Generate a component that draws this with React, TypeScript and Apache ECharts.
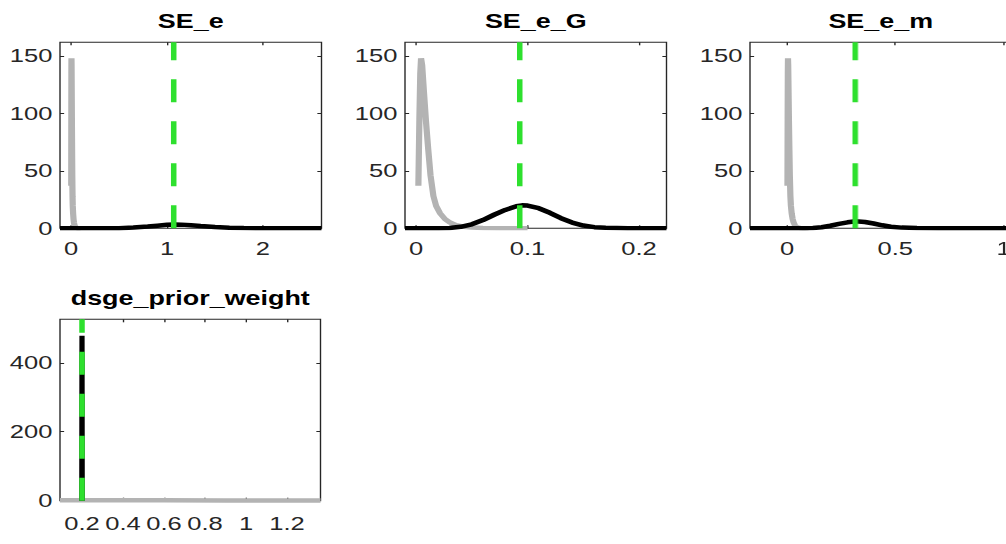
import React, { useEffect, useRef } from "react";
import * as echarts from "echarts";

// ---- data -------------------------------------------------------------
// shared prior density of the three shock standard deviations
const priorSEX = [0.0021, 0.003, 0.0038, 0.0045, 0.0055, 0.007, 0.009, 0.011, 0.013, 0.0156, 0.018, 0.0216, 0.026, 0.0305, 0.036, 0.0425, 0.05, 0.06, 0.075, 0.1];
const priorSEY = [37, 95, 135, 148, 142, 120, 92, 68, 46, 28, 19.5, 13, 8, 5, 2.8, 1.4, 0.7, 0.3, 0.1, 0.03];

// posterior densities
const postSEeX = [-0.115, 0.3, 0.5, 0.65, 0.8, 0.9, 1.0, 1.08, 1.15, 1.25, 1.35, 1.5, 1.65, 1.8, 2.0, 2.3, 2.61];
const postSEeY = [0, 0.02, 0.15, 0.6, 1.5, 2.3, 3.0, 3.3, 3.2, 2.7, 2.0, 1.1, 0.5, 0.2, 0.06, 0.01, 0];

const postSEeGX = [-0.0099, 0.02, 0.03, 0.04, 0.05, 0.06, 0.07, 0.08, 0.09, 0.095, 0.1, 0.11, 0.12, 0.13, 0.14, 0.15, 0.16, 0.17, 0.19, 0.2246];
const postSEeGY = [0, 0, 0.3, 1.3, 3.5, 7.2, 11.8, 16, 19.2, 20, 19.8, 17.5, 13.5, 8.8, 5, 2.4, 1, 0.4, 0.05, 0];

const postSEemX = [-0.171, 0.08, 0.12, 0.16, 0.2, 0.24, 0.28, 0.31, 0.33, 0.36, 0.4, 0.44, 0.48, 0.53, 0.6, 0.7, 1.037];
const postSEemY = [0, 0.02, 0.2, 0.9, 2.2, 3.8, 5.2, 5.9, 6, 5.5, 4.2, 2.6, 1.4, 0.6, 0.2, 0.04, 0];

const priorDpwX = [0.0927, 0.3, 0.6, 0.9, 1.2, 1.363];
const priorDpwY = [1.2, 1.1, 1.0, 0.9, 0.8, 0.75];
const postDpwX = [0.199, 0.2, 0.201];
const postDpwY = [0, 478, 0];

// posterior modes (dashed green lines)
const modes = [1.07, 0.093, 0.315, 0.2];

const titles = ["SE_e", "SE_e_G", "SE_e_m", "dsge_prior_weight"];

// axis ranges and ticks
const xRanges = [[-0.115, 2.61], [-0.0099, 0.2246], [-0.171, 1.037], [0.0927, 1.363]];
const xTicks = [[0, 1, 2], [0, 0.1, 0.2], [0, 0.5, 1], [0.2, 0.4, 0.6, 0.8, 1, 1.2]];
const yRanges = [[0, 162], [0, 162], [0, 162], [0, 526]];
const yTicks = [[0, 50, 100, 150], [0, 50, 100, 150], [0, 50, 100, 150], [0, 200, 400]];

// ---- layout -----------------------------------------------------------
const S = 1.38; // horizontal stretch of the figure
const W = 1006 / S;
const H = 544;

const boxes = [
  { left: 60, top: 42.3, width: 261.5, height: 186, title: 21.5, margin: 11, post: 4.5 },
  { left: 405, top: 42.3, width: 261.5, height: 186, title: 21.5, margin: 11, post: 4.5 },
  { left: 750, top: 42.3, width: 261.5, height: 186, title: 21.5, margin: 11, post: 4.5 },
  { left: 60, top: 319.3, width: 260.5, height: 181.4, title: 298.5, margin: 14, post: 3.8 },
];

const FONT = '"Liberation Sans", Arial, Helvetica, sans-serif';
const AX = "#262626";
const GRAY = "#b3b3b3";
const GREEN = "#2ee02e";

const zip = (xs: number[], ys: number[]) => xs.map((x, i) => [x, ys[i]]);

const priors = [
  zip(priorSEX, priorSEY),
  zip(priorSEX, priorSEY),
  zip(priorSEX, priorSEY),
  zip(priorDpwX, priorDpwY),
];
const posts = [
  zip(postSEeX, postSEeY),
  zip(postSEeGX, postSEeGY),
  zip(postSEemX, postSEemY),
  zip(postDpwX, postDpwY),
];

function buildOption() {
  const grid: any[] = [];
  const xAxis: any[] = [];
  const yAxis: any[] = [];
  const series: any[] = [];
  const graphic: any[] = [];

  boxes.forEach((b, i) => {
    grid.push({
      left: b.left / S,
      top: b.top,
      width: b.width / S,
      height: b.height,
      show: true,
      borderColor: AX,
      borderWidth: 1,
      backgroundColor: "transparent",
      containLabel: false,
      outerBoundsMode: "none",
    });

    const tick = (vals: number[]) => ({
      show: true,
      inside: true,
      length: 3,
      lineStyle: { color: AX, width: 1 },
      customValues: vals,
    });
    const label = (vals: number[], margin: number) => ({
      show: true,
      customValues: vals,
      margin,
      color: AX,
      fontSize: 18.5,
      fontFamily: FONT,
    });

    ["bottom", "top"].forEach((pos) => {
      xAxis.push({
        gridIndex: i,
        type: "value",
        position: pos,
        min: xRanges[i][0],
        max: xRanges[i][1],
        axisLine: { show: false, onZero: false },
        splitLine: { show: false },
        axisTick: tick(xTicks[i]),
        axisLabel: pos === "bottom" ? label(xTicks[i], b.margin) : { show: false },
      });
    });
    ["left", "right"].forEach((pos) => {
      yAxis.push({
        gridIndex: i,
        type: "value",
        position: pos,
        min: yRanges[i][0],
        max: yRanges[i][1],
        axisLine: { show: false, onZero: false },
        splitLine: { show: false },
        axisTick: tick(yTicks[i]),
        axisLabel: pos === "left" ? label(yTicks[i], 5.5) : { show: false },
      });
    });

    const xa = i * 2;
    const ya = i * 2;
    series.push({
      type: "line",
      xAxisIndex: xa,
      yAxisIndex: ya,
      data: priors[i],
      showSymbol: false,
      symbol: "none",
      silent: true,
      z: 2,
      lineStyle: { color: GRAY, width: 4.5 },
    });
    series.push({
      type: "line",
      xAxisIndex: xa,
      yAxisIndex: ya,
      data: posts[i],
      showSymbol: false,
      symbol: "none",
      silent: true,
      z: 3,
      lineStyle: { color: "#000", width: b.post },
    });
    series.push({
      type: "line",
      xAxisIndex: xa,
      yAxisIndex: ya,
      data: [
        [modes[i], yRanges[i][0]],
        [modes[i], yRanges[i][1]],
      ],
      showSymbol: false,
      symbol: "none",
      silent: true,
      z: 4,
      lineStyle: { color: GREEN, width: 4, type: [23, 19] },
    });

    graphic.push({
      type: "text",
      x: (b.left + b.width / 2) / S,
      y: b.title,
      style: {
        text: titles[i],
        fill: "#000",
        font: `bold 19.5px ${FONT}`,
        align: "center",
        verticalAlign: "middle",
      },
    });
  });

  return {
    animation: false,
    backgroundColor: "#fff",
    grid,
    xAxis,
    yAxis,
    series,
    graphic,
  };
}

export default function App() {
  const ref = useRef<HTMLDivElement>(null);
  useEffect(() => {
    if (!ref.current) return;
    const chart = echarts.init(ref.current, null, { renderer: "svg", width: W, height: H });
    chart.setOption(buildOption() as any);
    return () => chart.dispose();
  }, []);
  return (
    <div
      style={{
        position: "fixed",
        left: 0,
        top: 0,
        width: 1006,
        height: H,
        overflow: "hidden",
        background: "#fff",
      }}
    >
      <div
        ref={ref}
        style={{ width: W, height: H, transform: `scaleX(${S})`, transformOrigin: "0 0" }}
      />
    </div>
  );
}
